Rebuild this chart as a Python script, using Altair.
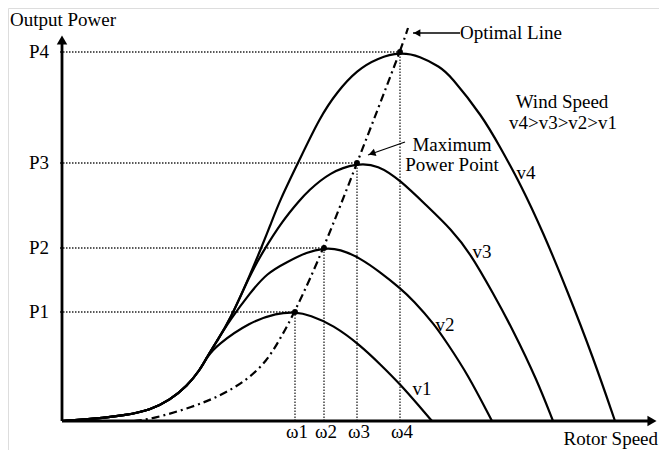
import altair as alt
import pandas as pd

# ---- data (units: rotor speed / output power, arbitrary) ----
common_x = [0, 31, 65, 88, 108, 125, 138, 145]
common_y = [0, 2, 6, 11, 21, 35, 51, 64]

v1_x = [155, 188, 215, 233, 248, 271, 298, 318, 338, 358, 370]
v1_y = [76, 99, 108, 109, 106, 96, 76, 57, 37, 14, 0]

v2_x = [155, 168, 188, 205, 225, 245, 262, 278, 298, 318, 338, 351, 373, 385, 405, 430]
v2_y = [80, 101, 128, 148, 159, 169, 173, 172, 163, 149, 133, 121, 96, 78, 48, 0]

v3_x = [155, 168, 188, 200, 221, 238, 245, 268, 295, 316, 338, 364, 390, 408, 431, 451, 475, 491]
v3_y = [80, 101, 146, 168, 201, 221, 229, 249, 258, 256, 241, 216, 191, 168, 128, 91, 41, 0]

v4_x = [155, 168, 188, 200, 208, 218, 236, 258, 275, 295, 316, 338, 358, 378, 388, 421, 438, 458, 481, 505, 531, 553]
v4_y = [80, 101, 146, 175, 195, 221, 258, 304, 329, 351, 363, 369, 365, 354, 346, 304, 274, 238, 189, 131, 64, 0]

opt_x = [72, 90, 131, 160, 185, 205, 218, 233, 262, 295, 338, 346]
opt_y = [0, 2, 14, 26, 41, 60, 82, 109, 173, 258, 369, 393]

omega_labels = ["ω1", "ω2", "ω3", "ω4"]
omega_vals = [233, 262, 295, 338]
power_labels = ["P1", "P2", "P3", "P4"]
power_vals = [109, 173, 258, 369]
curve_names = ["v1", "v2", "v3", "v4"]

FONT = "Times New Roman, Liberation Serif, DejaVu Serif, serif"
FS = 19

XS = alt.Scale(domain=[-54, 597], nice=False, zero=False)
YS = alt.Scale(domain=[-29, 413], nice=False, zero=False)

def X(field="x"):
    return alt.X(f"{field}:Q", scale=XS, axis=None)

def Y(field="y"):
    return alt.Y(f"{field}:Q", scale=YS, axis=None)

# ---- curves ----
rows = []
for name, tx, ty in zip(curve_names, [v1_x, v2_x, v3_x, v4_x], [v1_y, v2_y, v3_y, v4_y]):
    xs = common_x + tx
    ys = common_y + ty
    for i, (a, b) in enumerate(zip(xs, ys)):
        rows.append({"curve": name, "x": a, "y": b, "i": i})
curves_df = pd.DataFrame(rows)

curves = alt.Chart(curves_df).mark_line(
    interpolate="basis", color="black", strokeWidth=2.2
).encode(x=X(), y=Y(), detail="curve:N", order="i:Q")

opt_df = pd.DataFrame({"x": opt_x, "y": opt_y, "i": range(len(opt_x))})
opt = alt.Chart(opt_df).mark_line(
    interpolate="basis", color="black", strokeWidth=2.2, strokeDash=[8, 4, 2, 4]
).encode(x=X(), y=Y(), order="i:Q")

# ---- guide lines ----
peaks_df = pd.DataFrame({
    "w": omega_vals, "p": power_vals, "wl": omega_labels, "pl": power_labels,
    "x0": [-2] * 4, "y0": [0] * 4,
})
hguide = alt.Chart(peaks_df).mark_rule(color="#222", strokeWidth=1.3, strokeDash=[1.5, 1.5]).encode(
    x=X("x0"), x2="w:Q", y=Y("p"))
vguide = alt.Chart(peaks_df).mark_rule(color="#222", strokeWidth=1.3, strokeDash=[1.5, 1.5]).encode(
    x=X("w"), y=Y("y0"), y2="p:Q")
dots = alt.Chart(peaks_df).mark_point(filled=True, color="black", size=35, opacity=1).encode(
    x=X("w"), y=Y("p"))

# ---- axes with arrows ----
axes_df = pd.DataFrame({"x": [0, 0], "y": [0, 0], "x2": [0, 590], "y2": [381, 0]})
axes = alt.Chart(axes_df).mark_rule(color="black", strokeWidth=2.8).encode(
    x=X(), y=Y(), x2="x2:Q", y2="y2:Q")
heads_df = pd.DataFrame({"x": [0, 590], "y": [381, 0], "shape": ["triangle-up", "triangle-right"]})
heads = alt.Chart(heads_df).mark_point(filled=True, color="black", size=110, opacity=1).encode(
    x=X(), y=Y(), shape=alt.Shape("shape:N", scale=None))

# ---- annotation arrows ----
ann_df = pd.DataFrame({"x": [351, 306], "y": [388, 266], "x2": [398, 343], "y2": [388, 279]})
ann = alt.Chart(ann_df).mark_rule(color="black", strokeWidth=1.3).encode(
    x=X(), y=Y(), x2="x2:Q", y2="y2:Q")
ahead_df = pd.DataFrame({"x": [355, 310], "y": [388, 267.5], "ang": [180, 160.6]})
aheads = alt.Chart(ahead_df).mark_point(filled=True, color="black", size=60, opacity=1,
                                         shape="triangle-right").encode(
    x=X(), y=Y(), angle=alt.Angle("ang:Q", scale=None))

# ---- texts ----
def text_layer(df, align, baseline="middle"):
    return alt.Chart(df).mark_text(font=FONT, fontSize=FS, color="black", align=align,
                                   baseline=baseline).encode(x=X(), y=Y(), text="t:N")

t_left = pd.DataFrame({
    "x": [-52, 398],
    "y": [401, 388],
    "t": ["Output Power", "Optimal Line"],
})
t_center = pd.DataFrame({
    "x": [w + 2 for w in omega_vals] + [500, 501, 390, 390, 360, 383, 420, 464],
    "y": [-11] * 4 + [319, 298, 276, 256, 32, 96, 169, 248],
    "t": omega_labels + ["Wind Speed", "v4>v3>v2>v1", "Maximum", "Power Point"] + curve_names,
})
t_right = pd.DataFrame({
    "x": [-13] * 4,
    "y": power_vals,
    "t": power_labels,
})
t_bottom = pd.DataFrame({"x": [596], "y": [-24], "t": ["Rotor Speed"]})

chart = alt.layer(
    hguide, vguide, opt, curves, axes, heads, ann, aheads, dots,
    text_layer(t_left, "left"), text_layer(t_center, "center"), text_layer(t_right, "right"),
    text_layer(t_bottom, "right", "alphabetic"),
).properties(
    width=651, height=442, padding=0,
    autosize=alt.AutoSizeParams(type="none"),
).configure_view(stroke=None).configure(background="white")

chart.save("out.html", embed_options={"renderer": "svg", "actions": False})
